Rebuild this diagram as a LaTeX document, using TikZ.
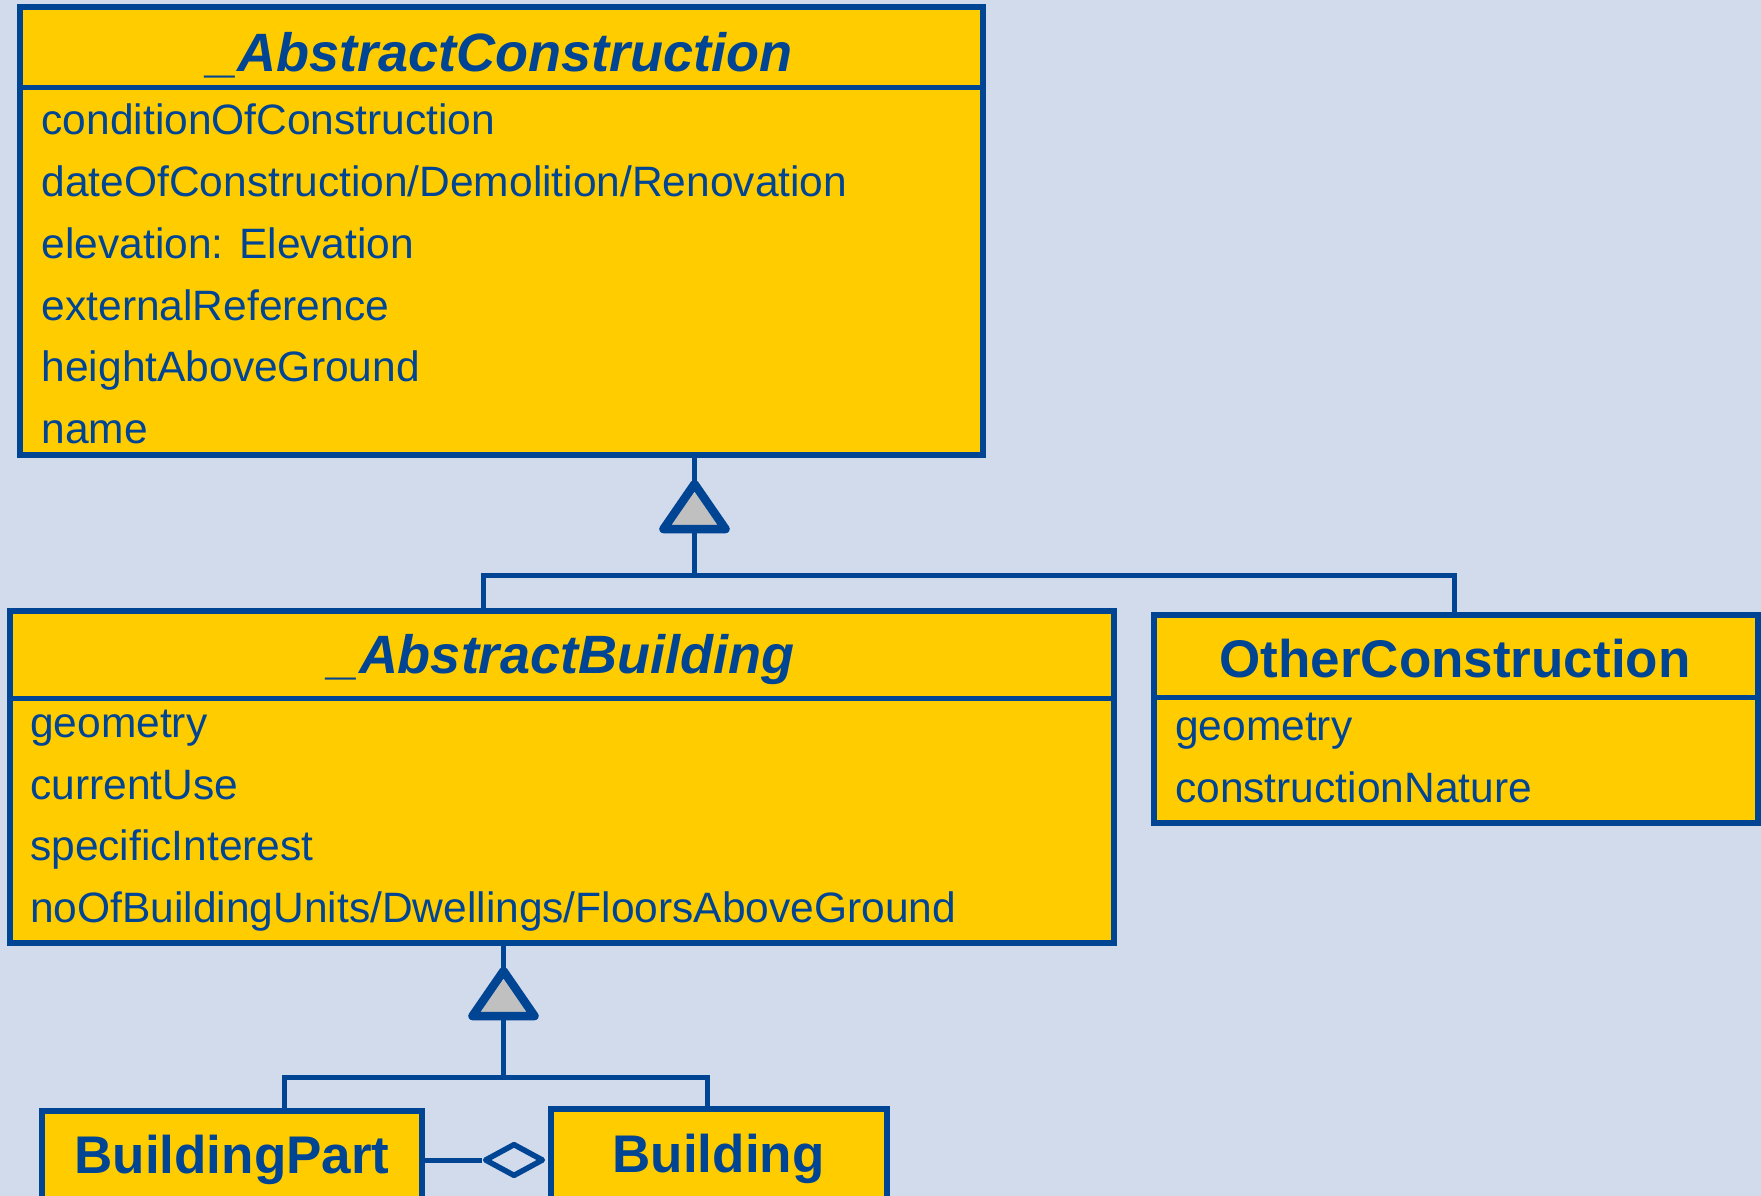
\documentclass[tikz,border=0pt]{standalone}
\usepackage{fontspec}
\setmainfont{Liberation Sans}
\usetikzlibrary{shapes.geometric}

\definecolor{umlblue}{RGB}{0,68,148}
\definecolor{umlgold}{RGB}{255,204,0}
\definecolor{umlbg}{RGB}{209,219,235}
\definecolor{gengray}{RGB}{192,192,192}

\tikzset{
  classbox/.style={rectangle, draw=umlblue, fill=umlgold, line width=5.5pt,
                   inner sep=0pt, anchor=north west},
  divider/.style={draw=umlblue, line width=5pt},
  conn/.style={draw=umlblue, line width=5pt},
  genhead/.style={draw=umlblue, fill=gengray, line width=8.5pt, line join=round},
  agghead/.style={diamond, draw=umlblue, line width=5.5pt, line join=round,
                  inner sep=0pt},
  abstitle/.style={text=umlblue, inner sep=0pt, anchor=base,
                   font=\fontsize{54pt}{60pt}\selectfont\bfseries\itshape},
  classtitle/.style={text=umlblue, inner sep=0pt, anchor=base,
                   font=\fontsize{53pt}{60pt}\selectfont\bfseries},
  attr/.style={text=umlblue, inner sep=0pt, anchor=base west,
               font=\fontsize{42.5pt}{48pt}\selectfont},
}

\begin{document}
\begin{tikzpicture}[x=1pt, y=-1pt]
  \useasboundingbox (0,0) rectangle (1761,1196);
  \clip (0,0) rectangle (1761,1196);
  \fill[umlbg] (0,0) rectangle (1761,1196);

  % class boxes (positions are the outer corners)
  \node[classbox, minimum width=963pt, minimum height=447.5pt] (ac) at (17,4.5) {};
  \node[classbox, minimum width=1104pt, minimum height=332pt] (ab) at (7,608) {};
  \node[classbox, minimum width=604pt, minimum height=208pt] (oc) at (1151,612) {};
  \node[classbox, minimum width=380pt, minimum height=150pt] (bp) at (39,1108) {};
  \node[classbox, minimum width=336pt, minimum height=150pt] (bd) at (548,1106) {};

  % name compartments
  \draw[divider] (ac.west |- 0,87.5) -- (ac.east |- 0,87.5);
  \draw[divider] (ab.west |- 0,698) -- (ab.east |- 0,698);
  \draw[divider] (oc.west |- 0,697) -- (oc.east |- 0,697);

  % _AbstractConstruction
  \node[abstitle] (acname) at (500,72) {\_AbstractConstruction};
  \node[attr] (ac1) at (41.5,135) {conditionOfConstruction};
  \node[attr] (ac2) at (41.5,196.5) {dateOfConstruction/Demolition/Renovation};
  \node[attr] (ac3) at (41.5,258) {elevation: Elevation};
  \node[attr] (ac4) at (41.5,320) {externalReference};
  \node[attr] (ac5) at (41.5,381.5) {heightAboveGround};
  \node[attr] (ac6) at (41.5,443) {name};

  % _AbstractBuilding
  \node[abstitle] (abname) at (561.5,673) {\_AbstractBuilding};
  \node[attr] (ab1) at (30,737) {geometry};
  \node[attr] (ab2) at (30,799) {currentUse};
  \node[attr] (ab3) at (30,860.5) {specificInterest};
  \node[attr] (ab4) at (30,922) {noOfBuildingUnits/Dwellings/FloorsAboveGround};

  % OtherConstruction
  \node[classtitle] (ocname) at (1455,677) {OtherConstruction};
  \node[attr] (oc1) at (1175,740) {geometry};
  \node[attr] (oc2) at (1175,802) {constructionNature};

  % BuildingPart and Building
  \node[classtitle] (bpname) at (232,1173) {BuildingPart};
  \node[classtitle] (bdname) at (718.5,1172) {Building};

  % generalisation to _AbstractConstruction
  \coordinate (j1) at (694.5,575);
  \coordinate (bl1) at (483,575);
  \coordinate (br1) at (1454,575);
  \coordinate (t1) at (694.5,484);
  \draw[conn] (ab.north -| bl1) -- (bl1) -- (br1) -- (oc.north -| br1);
  \draw[conn] (j1) -- (ac.south -| j1);
  \draw[genhead] (t1) -- ++(-31,45) -- ++(62,0) -- cycle;

  % generalisation to _AbstractBuilding
  \coordinate (j2) at (503.5,1077);
  \coordinate (bl2) at (284,1077);
  \coordinate (br2) at (707,1077);
  \coordinate (t2) at (503.5,971);
  \draw[conn] (bp.north -| bl2) -- (bl2) -- (br2) -- (bd.north -| br2);
  \draw[conn] (j2) -- (ab.south -| j2);
  \draw[genhead] (t2) -- ++(-31,45) -- ++(62,0) -- cycle;

  % aggregation BuildingPart -- Building
  \node[agghead, minimum width=59pt, minimum height=33pt] (agg) at (514,1160) {};
  \draw[conn] (bp.east |- agg.west) -- (agg.west);
\end{tikzpicture}
\end{document}
